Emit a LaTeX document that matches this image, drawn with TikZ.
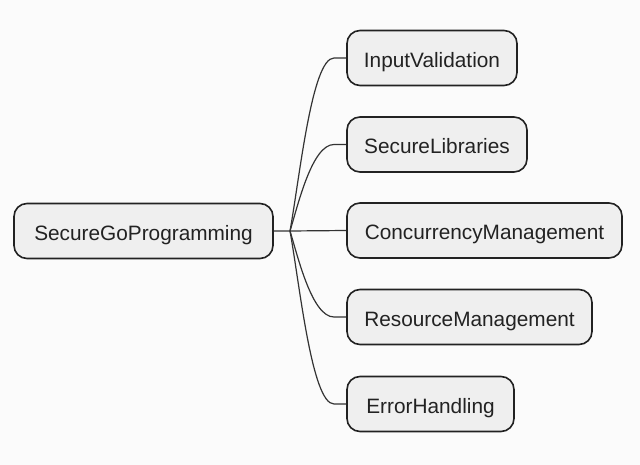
\documentclass[tikz,border=0pt]{standalone}
\usepackage{fontspec}
\setmainfont{Liberation Sans}
\usetikzlibrary{calc}
\definecolor{bgc}{HTML}{FBFBFB}
\definecolor{boxfill}{HTML}{EFEFEF}
\definecolor{boxline}{HTML}{222222}
\definecolor{edgec}{HTML}{333333}
\definecolor{txtc}{HTML}{222222}
\begin{document}
\begin{tikzpicture}[x=1pt,y=-1pt,
  mbox/.style={draw=boxline, line width=1.6pt, fill=boxfill, rounded corners=13pt,
    minimum height=55pt, inner sep=0pt, text=txtc, text height=19pt, text depth=0pt,
    font=\fontsize{20.8}{24}\selectfont},
  conn/.style={draw=edgec, line width=1.2pt}]
\fill[bgc] (0,0) rectangle (640,465);
\useasboundingbox (0,0) rectangle (640,465);
\node[mbox, minimum width=259pt] (root) at (143.5,231) {SecureGoProgramming};
\node[mbox, minimum width=170pt] (iv) at (432,58) {InputValidation};
\node[mbox, minimum width=180pt] (sl) at (437,144.5) {SecureLibraries};
\node[mbox, minimum width=275pt] (cm) at (484.5,230.5) {ConcurrencyManagement};
\node[mbox, minimum width=245pt] (rm) at (469.5,317) {ResourceManagement};
\node[mbox, minimum width=167pt] (eh) at (430.5,404) {ErrorHandling};
\coordinate (fork) at (290,231);
\draw[conn] (root.east) -- (fork) -- (cm.west);
\draw[conn] (fork) .. controls (300,175) and (312,58) .. (334,58) -- (iv.west);
\draw[conn] (fork) .. controls (298,205) and (312,144.5) .. (334,144.5) -- (sl.west);
\draw[conn] (fork) .. controls (298,257) and (312,317) .. (334,317) -- (rm.west);
\draw[conn] (fork) .. controls (300,287) and (312,404) .. (334,404) -- (eh.west);
\end{tikzpicture}
\end{document}
